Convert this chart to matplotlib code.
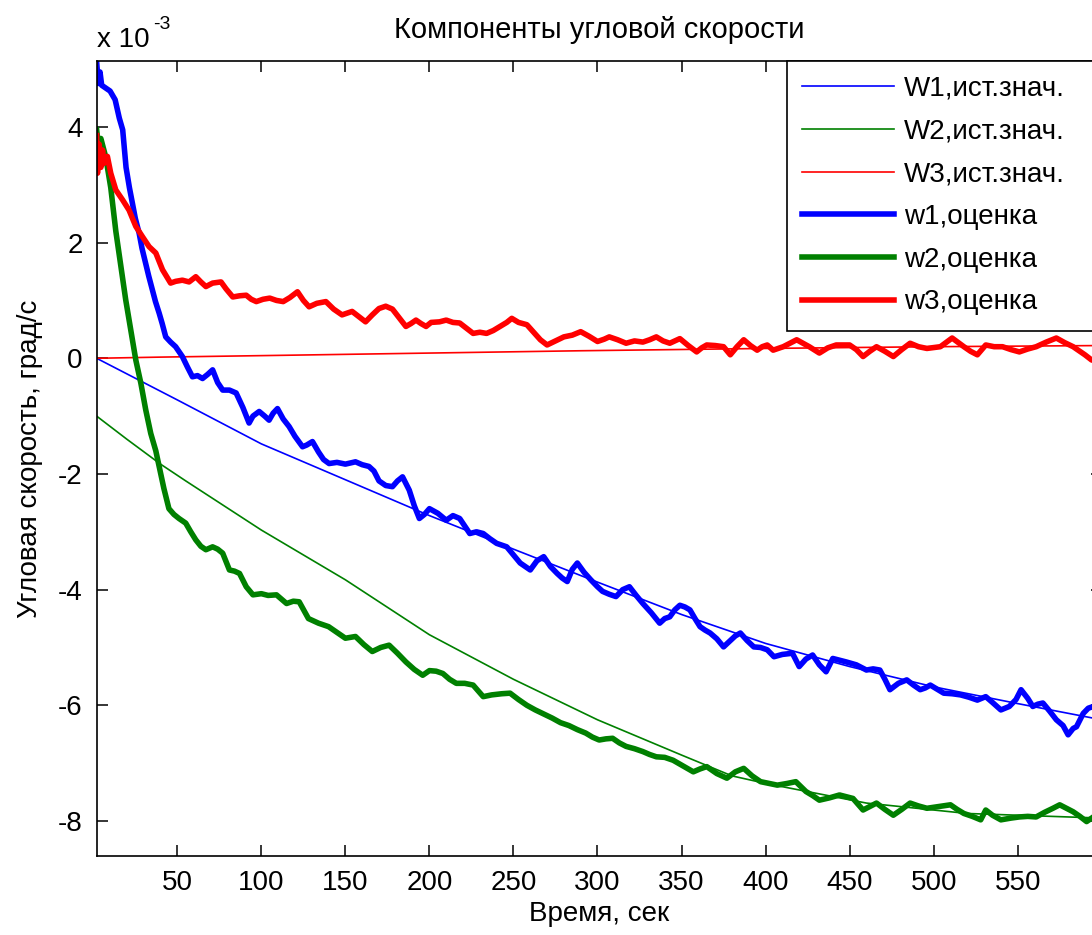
"""Компоненты угловой скорости: истинные значения и оценки (MATLAB-style figure)."""
import matplotlib
matplotlib.use("Agg")
import matplotlib.pyplot as plt

plt.rcParams["font.family"] = ["Liberation Sans", "DejaVu Sans"]
plt.rcParams["axes.unicode_minus"] = False

# values are in units of 1e-3 grad/s
t_true = [2, 50, 100, 150, 200, 250, 300, 350, 400, 450, 500, 550, 600]
W1_true = [0.0, -0.72, -1.48, -2.10, -2.72, -3.30, -3.87, -4.43, -4.93, -5.33, -5.68, -5.97, -6.25]
t_w2_true = [2, 20, 40, 55, 100, 150, 200, 250, 275, 300, 350, 380, 400, 460, 520, 600]
W2_true = [-1.00, -1.40, -1.83, -2.12, -2.97, -3.83, -4.78, -5.55, -5.90, -6.25, -6.86, -7.22,
           -7.35, -7.69, -7.87, -7.95]
t_w3_true = [2, 40, 110, 200, 290, 400, 500, 600]
W3_true = [0.0, 0.02, 0.05, 0.09, 0.13, 0.17, 0.20, 0.22]

t_w1 = [2, 3, 4, 5, 7, 10, 13, 15.5, 17.5, 19.5, 21.5, 23.3, 25, 27.3, 29, 31.2, 33, 35.2, 37,
        39.2, 41, 43.1, 46, 49, 53, 56, 59, 62, 65, 68, 71, 74, 77, 81, 85, 89, 92.7, 95, 98.7,
        102, 104.6, 107, 109.6, 113, 116.5, 120, 124.5, 127, 130.4, 134, 137, 140.3, 145, 150,
        156, 160, 164, 167, 170, 174, 178, 181, 184, 188, 191, 194, 197, 200, 205, 210, 214,
        218, 221, 224, 228, 232, 236, 240, 246, 250, 254, 257, 260, 264, 268, 272, 276, 279,
        282, 285, 288, 292, 296, 300, 303, 307, 311, 315, 319, 323, 327, 332, 337, 340, 343,
        346, 349, 352, 355, 358, 361, 364, 367, 371, 375, 379, 382, 385, 389, 393, 397, 401,
        405, 410, 416, 420, 424, 428, 432, 436, 440, 444, 448, 454, 460, 464, 468, 471, 474,
        479, 484, 488, 492, 495, 498, 502, 506, 511, 516, 521, 526, 531, 535, 540, 545, 549,
        552, 556, 559, 562, 565, 569, 573, 577, 580, 583, 585, 589, 592, 595, 598]
w1_est = [5.12, 4.75, 4.95, 4.72, 4.68, 4.62, 4.47, 4.15, 3.95, 3.30, 2.95, 2.68, 2.42, 2.16,
          1.90, 1.64, 1.42, 1.18, 0.98, 0.78, 0.60, 0.37, 0.28, 0.20, 0.03, -0.15, -0.32, -0.30,
          -0.35, -0.28, -0.20, -0.42, -0.55, -0.55, -0.60, -0.85, -1.12, -1.00, -0.92, -1.00,
          -1.07, -0.95, -0.87, -1.05, -1.18, -1.35, -1.53, -1.50, -1.44, -1.62, -1.75, -1.82,
          -1.80, -1.83, -1.79, -1.84, -1.87, -1.95, -2.12, -2.20, -2.22, -2.12, -2.05, -2.28,
          -2.55, -2.77, -2.70, -2.60, -2.68, -2.80, -2.72, -2.77, -2.90, -3.03, -3.00, -3.03,
          -3.12, -3.20, -3.26, -3.40, -3.54, -3.60, -3.66, -3.50, -3.43, -3.60, -3.72, -3.80,
          -3.86, -3.65, -3.54, -3.70, -3.83, -3.95, -4.03, -4.08, -4.12, -4.00, -3.95, -4.10,
          -4.24, -4.40, -4.58, -4.50, -4.47, -4.35, -4.27, -4.30, -4.35, -4.50, -4.64, -4.70,
          -4.75, -4.85, -4.99, -4.88, -4.80, -4.75, -4.88, -4.99, -5.00, -5.04, -5.16, -5.12,
          -5.10, -5.33, -5.20, -5.13, -5.30, -5.42, -5.19, -5.22, -5.25, -5.30, -5.39, -5.37,
          -5.39, -5.55, -5.73, -5.62, -5.56, -5.65, -5.73, -5.70, -5.65, -5.72, -5.79, -5.80,
          -5.82, -5.86, -5.91, -5.85, -5.95, -6.08, -6.02, -5.90, -5.73, -5.88, -6.02, -5.98,
          -5.96, -6.10, -6.25, -6.35, -6.51, -6.40, -6.37, -6.14, -6.05, -6.02, -5.95]

t_w2 = [2, 3, 4.5, 7.4, 10.4, 13.4, 16.4, 19.3, 22.3, 25.3, 28.3, 31.2, 34.2, 37.2, 39.2, 42,
        45, 48, 51, 55, 58, 61, 64, 67, 71, 74, 77, 81, 84, 87, 91, 95, 100, 104, 109, 115, 119,
        122.5, 128, 134, 140, 145, 150, 156, 161, 166, 171, 176, 181, 186, 191, 196, 200, 204,
        208, 212, 216, 221, 226, 229, 232, 237, 243, 248, 253, 258, 263, 268, 273, 278, 283,
        288, 293, 297, 301, 305, 309, 313, 317, 322, 327, 331, 335, 340, 345, 351, 357, 361,
        365, 371, 377, 382, 387, 392, 397, 402, 407, 413, 418, 424, 428, 432, 438, 444, 448,
        452, 458, 462, 466, 471, 476, 481, 486, 491, 496, 503, 510, 514, 518, 523, 528, 531,
        535, 540, 546, 551, 556, 561, 566, 571, 575, 579, 583, 587, 591, 595, 598]
w2_est = [3.95, 3.70, 3.80, 3.48, 2.95, 2.20, 1.60, 1.01, 0.49, -0.03, -0.43, -0.89, -1.30,
          -1.60, -1.87, -2.25, -2.60, -2.70, -2.77, -2.85, -3.00, -3.14, -3.25, -3.31, -3.26,
          -3.30, -3.37, -3.66, -3.68, -3.72, -3.95, -4.09, -4.07, -4.10, -4.09, -4.24, -4.20,
          -4.21, -4.50, -4.58, -4.64, -4.74, -4.84, -4.81, -4.95, -5.07, -5.00, -4.96, -5.10,
          -5.25, -5.38, -5.48, -5.40, -5.41, -5.45, -5.55, -5.62, -5.62, -5.65, -5.75, -5.85,
          -5.82, -5.80, -5.79, -5.90, -6.00, -6.08, -6.15, -6.22, -6.30, -6.35, -6.42, -6.48,
          -6.55, -6.60, -6.58, -6.57, -6.65, -6.71, -6.75, -6.80, -6.85, -6.89, -6.90, -6.95,
          -7.05, -7.15, -7.10, -7.06, -7.18, -7.26, -7.15, -7.09, -7.22, -7.32, -7.35, -7.38,
          -7.35, -7.32, -7.49, -7.56, -7.64, -7.60, -7.55, -7.58, -7.61, -7.81, -7.75, -7.69,
          -7.80, -7.90, -7.80, -7.69, -7.74, -7.78, -7.75, -7.72, -7.80, -7.87, -7.92, -7.98,
          -7.81, -7.90, -7.98, -7.95, -7.93, -7.92, -7.93, -7.85, -7.78, -7.72, -7.78, -7.84,
          -7.92, -8.01, -7.93, -7.95]

t_w3 = [2, 2.5, 3.5, 4.5, 5.5, 6.4, 8.4, 10.4, 13.4, 17.4, 21.3, 25.3, 29.3, 33.2, 37.2, 41.2,
        46, 49, 53, 57, 61, 64, 67, 71, 76, 79, 83, 87, 91, 94, 97, 101, 105, 109, 113, 117,
        121.5, 125, 128.4, 133, 138.4, 143, 148, 154, 158, 162, 166, 170, 174, 178, 182, 186,
        189, 192, 195, 198, 201, 206, 210, 214, 218, 222, 226, 230, 234, 238, 242, 246, 249,
        253, 258, 262, 266, 270, 275, 280, 285, 290, 295, 300, 304, 307, 312, 317, 322, 327,
        331, 335, 339, 343, 346, 349, 354, 359, 362, 365, 370, 375, 379, 383, 387, 391, 395,
        398, 401, 404.5, 410.5, 418.5, 426, 432, 437, 442, 450, 454, 458, 462, 466, 471, 476,
        481, 486, 491, 496, 504, 511, 518, 522, 526, 531, 536, 541, 546, 551, 556, 561, 567,
        573, 578, 583, 587, 590, 594, 598]
w3_est = [3.85, 3.20, 3.70, 3.30, 3.60, 3.37, 3.49, 3.20, 2.91, 2.74, 2.56, 2.28, 2.10, 1.93,
          1.82, 1.53, 1.30, 1.33, 1.35, 1.32, 1.41, 1.32, 1.24, 1.30, 1.32, 1.20, 1.06, 1.08,
          1.09, 1.02, 0.98, 1.02, 1.04, 1.00, 0.98, 1.05, 1.15, 1.00, 0.89, 0.95, 0.98, 0.85,
          0.75, 0.81, 0.72, 0.63, 0.75, 0.86, 0.90, 0.85, 0.70, 0.55, 0.60, 0.66, 0.60, 0.55,
          0.62, 0.63, 0.66, 0.62, 0.61, 0.52, 0.43, 0.45, 0.43, 0.48, 0.55, 0.62, 0.69, 0.62,
          0.58, 0.45, 0.32, 0.23, 0.30, 0.37, 0.40, 0.46, 0.38, 0.29, 0.33, 0.37, 0.32, 0.26,
          0.30, 0.28, 0.32, 0.37, 0.30, 0.26, 0.30, 0.34, 0.22, 0.11, 0.18, 0.23, 0.22, 0.20,
          0.06, 0.20, 0.32, 0.22, 0.14, 0.20, 0.23, 0.14, 0.20, 0.32, 0.20, 0.09, 0.18, 0.23,
          0.23, 0.15, 0.03, 0.12, 0.20, 0.12, 0.03, 0.15, 0.26, 0.20, 0.17, 0.20, 0.35, 0.20,
          0.12, 0.06, 0.23, 0.20, 0.20, 0.15, 0.11, 0.16, 0.20, 0.28, 0.35, 0.27, 0.20, 0.12,
          0.06, -0.03, -0.05]

x_ticks = [50, 100, 150, 200, 250, 300, 350, 400, 450, 500, 550]
y_ticks = [-8, -6, -4, -2, 0, 2, 4]

BLUE, GREEN, RED = (0, 0, 1), (0, 0.5, 0), (1, 0, 0)

fig = plt.figure(figsize=(10.92, 9.35), dpi=100)
# axes runs past the right border of the picture, as in the cropped screenshot
ax = fig.add_axes([0.0885, 0.0845, 0.9204, 0.8506])

ax.plot(t_true, W1_true, color=BLUE, lw=1.2, label="W1,ист.знач.")
ax.plot(t_w2_true, W2_true, color=GREEN, lw=1.2, label="W2,ист.знач.")
ax.plot(t_w3_true, W3_true, color=RED, lw=1.2, label="W3,ист.знач.")
ax.plot(t_w1, w1_est, color=BLUE, lw=4, label="w1,оценка")
ax.plot(t_w2, w2_est, color=GREEN, lw=4, label="w2,оценка")
ax.plot(t_w3, w3_est, color=RED, lw=4, label="w3,оценка")

ax.set_xlim(2, 600)
ax.set_ylim(-8.605, 5.145)
ax.set_xticks(x_ticks)
ax.set_yticks(y_ticks)
ax.tick_params(direction="in", length=8, width=1.1, top=True, right=True,
               labelsize=20, pad=10)
for s in ax.spines.values():
    s.set_linewidth(1.2)

ax.set_title("Компоненты угловой скорости", fontsize=21, pad=16)
ax.set_xlabel("Время, сек", fontsize=20, labelpad=4)
ax.set_ylabel("Угловая скорость, град/с", fontsize=20, labelpad=11)

fig.text(97 / 1092, 1 - 47 / 935, "x 10", fontsize=20, va="baseline", ha="left")
fig.text(153 / 1092, 1 - 29 / 935, "-3", fontsize=14, va="baseline", ha="left")

# legend box spans from x=787 px to the axes' right edge (outside the picture)
leg = ax.legend(loc="upper right", bbox_to_anchor=(0.6869, 0.0, 0.3131, 1.0), mode="expand",
                borderaxespad=0, fontsize=20, frameon=True, fancybox=False, framealpha=1,
                edgecolor="black", handlelength=3.3, handletextpad=0.35, labelspacing=0.6,
                borderpad=0.55)
leg.get_frame().set_linewidth(1.2)

fig.savefig("out.png", dpi=100)
